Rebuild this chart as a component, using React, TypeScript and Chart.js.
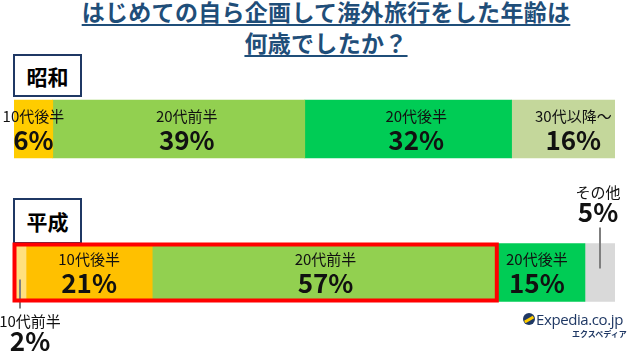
import React, { useEffect, useRef } from "react";
import { Chart, registerables } from "chart.js";

Chart.register(...registerables);

// ---- data ----
const rowLabels = ["昭和", "平成"];
const showaCategories = ["10代後半", "20代前半", "20代後半", "30代以降〜"];
const showaValues = [6, 39, 32, 16];
const heiseiCategories = ["10代前半", "10代後半", "20代前半", "20代後半", "その他"];
const heiseiValues = [2, 21, 57, 15, 5];
const titleLines = ["はじめての自ら企画して海外旅行をした年齢は", "何歳でしたか？"];

// ---- styles ----
const showaColors = ["#FFCC00", "#92D050", "#00CC55", "#C4D79B"];
const heiseiColors = ["#FFE07F", "#FFC000", "#92D050", "#00CC55", "#D9D9D9"];
const showaModes = ["inside", "inside", "inside", "inside"];
const heiseiModes = ["below", "inside", "inside", "inside", "above"];
const showaDx = [0, 8, 8, 10];
const heiseiDx = [10, 0, 2, -3, -2];
const FONT = '"Noto Sans CJK JP", "Noto Sans", sans-serif';

const sum = (a: number[]) => a.reduce((s, v) => s + v, 0);

const labelPlugin = {
  id: "segLabels",
  afterDatasetsDraw(chart: any) {
    const ctx = chart.ctx as CanvasRenderingContext2D;
    ctx.save();
    ctx.textAlign = "center";
    ctx.textBaseline = "middle";
    chart.data.datasets.forEach((ds: any, di: number) => {
      const meta = chart.getDatasetMeta(di);
      const el = meta.data[ds.row];
      if (!el) return;
      const p = el.getProps(["x", "y", "base", "height"], true);
      const cx = (p.x + p.base) / 2;
      const top = p.y - p.height / 2;
      const bottom = p.y + p.height / 2;
      const tx = cx + ds.dx;
      let ly = p.y - 13;
      let py = p.y + 11;
      ctx.strokeStyle = "#7F7F7F";
      ctx.lineWidth = 2;
      if (ds.mode === "below") {
        ctx.beginPath();
        ctx.moveTo(cx, p.y + 7);
        ctx.lineTo(cx, bottom + 7);
        ctx.stroke();
        ly = bottom + 20;
        py = bottom + 40;
      } else if (ds.mode === "above") {
        ctx.beginPath();
        ctx.moveTo(cx, top - 16);
        ctx.lineTo(cx, p.y - 4);
        ctx.stroke();
        ly = top - 51;
        py = top - 31;
      }
      ctx.fillStyle = "#111";
      ctx.font = `15px ${FONT}`;
      ctx.fillText(ds.label, tx, ly);
      ctx.font = `bold 26px ${FONT}`;
      ctx.fillText(`${ds.value}%`, tx, py);
    });
    // red highlight box around the first three Heisei segments
    const hs = chart.data.datasets
      .map((ds: any, i: number) => ({ ds, i }))
      .filter((o: any) => o.ds.row === 1);
    if (hs.length >= 3) {
      const a = chart.getDatasetMeta(hs[0].i).data[1].getProps(["x", "y", "base", "height"], true);
      const b = chart.getDatasetMeta(hs[2].i).data[1].getProps(["x", "y", "base", "height"], true);
      ctx.strokeStyle = "#FF0000";
      ctx.lineWidth = 4;
      ctx.strokeRect(a.base + 0.5, a.y - a.height / 2 + 1, b.x - a.base + 1.5, a.height - 2);
    }
    ctx.restore();
  },
};

export default function App() {
  const ref = useRef<HTMLCanvasElement | null>(null);

  useEffect(() => {
    if (!ref.current) return;
    const datasets: any[] = [];
    showaValues.forEach((v, i) => {
      datasets.push({
        label: showaCategories[i],
        value: v,
        row: 0,
        mode: showaModes[i],
        dx: showaDx[i],
        data: [v, null],
        xAxisID: "xs",
        stack: "all",
        backgroundColor: showaColors[i],
        borderWidth: 0,
        barThickness: 58,
      });
    });
    heiseiValues.forEach((v, i) => {
      datasets.push({
        label: heiseiCategories[i],
        value: v,
        row: 1,
        mode: heiseiModes[i],
        dx: heiseiDx[i],
        data: [null, v],
        xAxisID: "xh",
        stack: "all",
        backgroundColor: heiseiColors[i],
        borderWidth: 0,
        barThickness: 58,
      });
    });
    const chart = new Chart(ref.current, {
      type: "bar",
      data: { labels: rowLabels, datasets },
      options: {
        indexAxis: "y",
        animation: false,
        responsive: false,
        maintainAspectRatio: false,
        layout: { padding: { left: 14, right: 13, top: 57.25, bottom: 8.75 } },
        plugins: { legend: { display: false }, tooltip: { enabled: false }, title: { display: false } },
        scales: {
          y: { type: "category", display: false, stacked: true },
          xs: { type: "linear", axis: "x", position: "bottom", min: 0, max: sum(showaValues), display: false, stacked: true },
          xh: { type: "linear", axis: "x", position: "bottom", min: 0, max: sum(heiseiValues), display: false, stacked: true },
        },
      } as any,
      plugins: [labelPlugin],
    });
    return () => chart.destroy();
  }, []);

  const boxStyle: React.CSSProperties = {
    position: "absolute",
    left: 13,
    width: 69,
    boxSizing: "border-box",
    border: "2px solid #1F3864",
    background: "#fff",
    display: "flex",
    alignItems: "center",
    justifyContent: "center",
    fontFamily: FONT,
    fontWeight: "bold",
    fontSize: 21,
    color: "#000",
  };

  return (
    <div style={{ position: "fixed", left: 0, top: 0, width: 628, height: 353, background: "#fff", overflow: "hidden" }}>
      <div
        style={{
          position: "absolute",
          left: 26,
          top: -4,
          width: 600,
          textAlign: "center",
          fontFamily: FONT,
          fontWeight: "bold",
          fontSize: 23,
          letterSpacing: 0.3,
          lineHeight: "31px",
          color: "#1F4E79",
        }}
      >
        {titleLines.map((t, i) => (
          <div key={i}>
            <span style={{ textDecoration: "underline", textDecorationThickness: "2px", textUnderlineOffset: "3px" }}>{t}</span>
          </div>
        ))}
      </div>
      <div style={{ ...boxStyle, top: 54, height: 43 }}>{rowLabels[0]}</div>
      <div style={{ ...boxStyle, top: 198, height: 46 }}>{rowLabels[1]}</div>
      <canvas ref={ref} width={628} height={353} style={{ position: "absolute", left: 0, top: 0, width: 628, height: 353 }} />
      <div style={{ position: "absolute", left: 523, top: 313, width: 12, height: 12, borderRadius: 6, background: "#1F3864", overflow: "hidden" }}>
        <div style={{ position: "absolute", left: 1, top: 5, width: 10, height: 2.5, background: "#FFCC00", transform: "rotate(-30deg)" }} />
      </div>
      <div style={{ position: "absolute", left: 536, top: 309, fontFamily: '"Open Sans", sans-serif', fontSize: 15, color: "#1F3864", letterSpacing: -0.4, whiteSpace: "nowrap" }}>
        Expedia.co.jp
      </div>
      <div style={{ position: "absolute", left: 572, top: 328, fontFamily: FONT, fontWeight: "bold", fontSize: 8, color: "#1F3864", whiteSpace: "nowrap" }}>
        エクスペディア
      </div>
    </div>
  );
}
